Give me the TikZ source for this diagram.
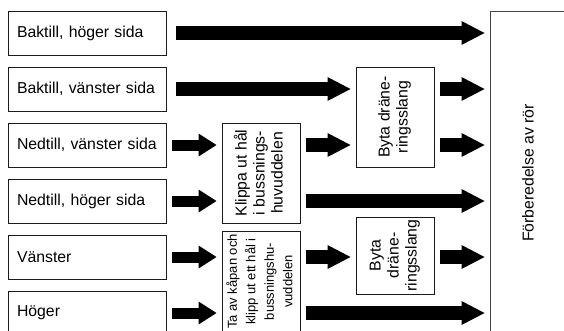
\documentclass[tikz,border=0pt]{standalone}
\usepackage{fontspec}
\setmainfont{Liberation Sans}
\usepackage{graphicx}
\usepackage{tikz}
\usetikzlibrary{arrows.meta,positioning}
\definecolor{cBox}{HTML}{1A1A1A}
\definecolor{cFrame}{HTML}{444444}
\newcommand{\diagfont}{\fontsize{15.8}{18}\selectfont}
\newcommand{\smallfont}{\fontsize{13}{18.5}\selectfont}
\newcommand{\vtext}[1]{\rotatebox{90}{\begin{tabular}{@{}c@{}}#1\end{tabular}}}
\tikzset{
  lbox/.style  ={draw=cBox, line width=1pt, fill=white, minimum width=158pt, minimum height=44pt,
                 text width=140pt, inner xsep=9pt, align=left, font=\diagfont},
  mbox/.style  ={draw=cBox, line width=1pt, fill=white, minimum width=78pt, inner sep=0pt, font=\diagfont},
  bigbox/.style={draw=cFrame, line width=1pt, minimum width=76pt, minimum height=324pt, inner sep=0pt, font=\diagfont},
  barrow/.style={line width=14pt, -{Triangle[width=24pt,length=23pt,line width=0pt]}, shorten <=5pt, shorten >=5pt},
  sarrow/.style={line width=11pt, -{Triangle[width=23pt,length=18pt,line width=0pt]}, shorten <=5pt, shorten >=5pt},
}

\begin{document}
\begin{tikzpicture}[x=1pt,y=-1pt]
        \useasboundingbox (0,0) rectangle (564,330);
        \clip (0,0) rectangle (564,330);
        \fill[white] (0,0) rectangle (564,330);
        % left column
        \node[lbox] (bh) at (87,33) {Baktill, höger sida};
        \node[lbox] (bv) at (87,89) {Baktill, vänster sida};
        \node[lbox] (nv) at (87,145) {Nedtill, vänster sida};
        \node[lbox] (nh) at (87,201) {Nedtill, höger sida};
        \node[lbox] (va) at (87,257) {Vänster};
        \node[lbox] (ho) at (87,313) {Höger};
        % middle steps
        \node[mbox, minimum height=100pt] (klippa) at (261,173) {\vtext{Klippa ut hål\\ i bussnings-\\ huvuddelen}};
        \node[mbox, minimum height=101pt, font=\smallfont] (taav) at (261,281.5) {\vtext{Ta av kåpan och\\ klipp ut ett hål i\\ bussningshu-\\ vuddelen}};
        \node[mbox, minimum height=100pt] (byta1) at (395,117) {\vtext{Byta dräne-\\ ringsslang}};
        \node[mbox, minimum height=77pt] (byta2) at (395,255.5) {\vtext{Byta\\ dräne-\\ ringsslang}};
        \node[bigbox] (prep) at (528,173) {\rotatebox{90}{Förberedelse av rör}};
        % arrows
        \draw[barrow, shorten <=9pt] (bh.east) -- (bh.east -| prep.west);
        \draw[barrow, shorten <=9pt] (bv.east) -- (bv.east -| byta1.west);
        \draw[barrow] (byta1.east |- bv.east) -- (bv.east -| prep.west);
        \draw[sarrow] (nv.east) -- (nv.east -| klippa.west);
        \draw[barrow] (klippa.east |- nv.east) -- (nv.east -| byta1.west);
        \draw[barrow] (byta1.east |- nv.east) -- (nv.east -| prep.west);
        \draw[sarrow] (nh.east) -- (nh.east -| klippa.west);
        \draw[barrow] (klippa.east |- nh.east) -- (nh.east -| prep.west);
        \draw[sarrow] (va.east) -- (va.east -| taav.west);
        \draw[barrow] (taav.east |- va.east) -- (va.east -| byta2.west);
        \draw[barrow] (byta2.east |- va.east) -- (va.east -| prep.west);
        \draw[sarrow] (ho.east) -- (ho.east -| taav.west);
        \draw[barrow] (taav.east |- ho.east) -- (ho.east -| prep.west);
\end{tikzpicture}
\end{document}
